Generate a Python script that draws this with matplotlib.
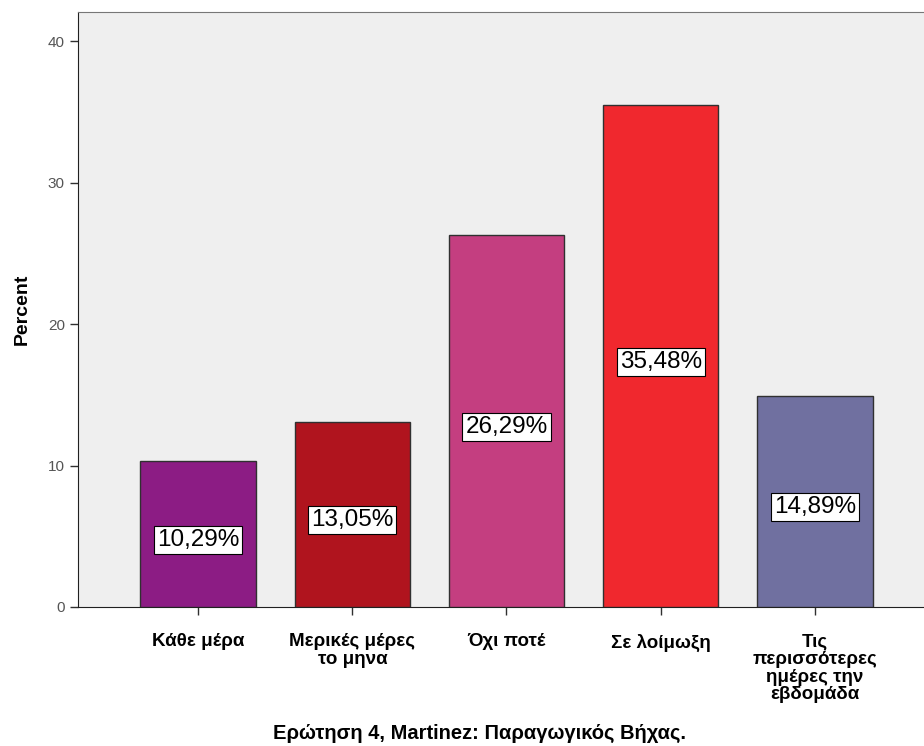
import matplotlib
matplotlib.use("Agg")
import matplotlib.pyplot as plt

categories = ["Κάθε μέρα", "Μερικές μέρες\nτο μηνα", "Όχι ποτέ", "Σε λοίμωξη",
              "Τις\nπερισσότερες\nημέρες την\nεβδομάδα"]
values = [10.29, 13.05, 26.29, 35.48, 14.89]
labels = ["10,29%", "13,05%", "26,29%", "35,48%", "14,89%"]
colors = ["#8c1c84", "#b0141e", "#c43e80", "#f0282e", "#7070a0"]
yticks = [0, 10, 20, 30, 40]

plt.rcParams['font.family'] = ['Liberation Sans', 'DejaVu Sans']

fig = plt.figure(figsize=(9.24, 7.46), dpi=100)
ax = fig.add_axes([78/924, 1-607/746, (935-78)/924, (607-12)/746])
ax.set_facecolor("#efefef")
x = list(range(len(values)))
ax.bar(x, values, width=0.75, color=colors, edgecolor="#303030", linewidth=1.0, zorder=3)
for xi, v, lab in zip(x, values, labels):
    ax.text(xi, v/2 - 0.4, lab, ha="center", va="center", fontsize=17.5, color="black", zorder=4,
            bbox=dict(boxstyle="square,pad=0.12", facecolor="white", edgecolor="black", linewidth=0.8))
ax.set_xlim(-0.78, 4.78)
ax.set_ylim(0, 42.05)
ax.set_yticks(yticks)
ax.set_yticklabels([str(t) for t in yticks], fontsize=11, color="#555555")
ax.set_xticks(x)
ax.set_xticklabels(categories, fontsize=13.5, fontweight="bold", linespacing=1.05)
ax.tick_params(axis="x", length=6, width=1, pad=13, color="#303030")
ax.tick_params(axis="y", length=6, width=1, color="#303030")
for s in ["top", "right"]:
    ax.spines[s].set_visible(True)
    ax.spines[s].set_color("#777777")
ax.spines["left"].set_color("#202020")
ax.spines["bottom"].set_color("#202020")
ax.set_ylabel("Percent", fontsize=14, fontweight="bold", labelpad=12)
fig.text(480/924, 1-733/746, "Ερώτηση 4, Martinez: Παραγωγικός Βήχας.", ha="center", va="center",
         fontsize=14.5, fontweight="bold")
fig.savefig("out.png", dpi=100)
